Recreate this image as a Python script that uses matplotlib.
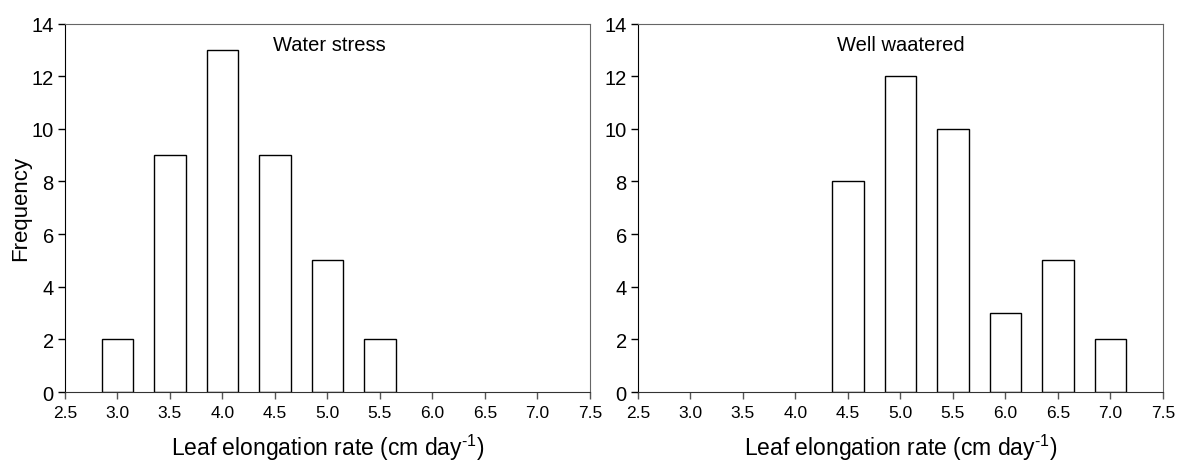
"""
plot.py
Leaf elongation rate histograms: water stress vs well watered.
"""

import matplotlib
matplotlib.use("Agg")
import matplotlib.pyplot as plt

# ─── Data ─────────────────────────────────────────────────────────────────────
bin_centres   = [3.0, 3.5, 4.0, 4.5, 5.0, 5.5, 6.0, 6.5, 7.0]
stress_freq   = [2, 9, 13, 9, 5, 2, 0, 0, 0]
watered_freq  = [0, 0, 0, 8, 12, 10, 3, 5, 2]
x_ticks       = [2.5, 3.0, 3.5, 4.0, 4.5, 5.0, 5.5, 6.0, 6.5, 7.0, 7.5]
y_ticks       = [0, 2, 4, 6, 8, 10, 12, 14]
panel_titles  = ["Water stress", "Well waatered"]

plt.rcParams["font.family"] = ["Liberation Sans", "DejaVu Sans"]
plt.rcParams["mathtext.fontset"] = "custom"
plt.rcParams["mathtext.rm"] = "Liberation Sans"
plt.rcParams["mathtext.it"] = "Liberation Sans:italic"

fig = plt.figure(figsize=(11.79, 4.64), dpi=100)
ax1 = fig.add_axes([0.0551, 0.153, 0.4453, 0.794])
ax2 = fig.add_axes([0.5411, 0.153, 0.4453, 0.794])


def draw_panel(ax, freq, title, title_x):
    # empty bins get no outline, as in the original figure
    edges = ["black" if f > 0 else "none" for f in freq]
    ax.bar(bin_centres, freq, width=0.3, color="white",
           edgecolor=edges, linewidth=1.0, zorder=2)
    ax.set_xlim(2.5, 7.5)
    ax.set_ylim(0, 14)
    ax.set_xticks(x_ticks)
    ax.set_xticklabels([f"{t:.1f}" for t in x_ticks], fontsize=12.5)
    ax.set_yticks(y_ticks)
    ax.set_yticklabels([str(t) for t in y_ticks], fontsize=14.5)
    ax.tick_params(axis="y", direction="out", length=5, width=1,
                   color="black", right=False, pad=3)
    ax.tick_params(axis="x", direction="out", length=5, width=1,
                   color="#555555", top=False, pad=4)
    ax.spines["left"].set_color("black")
    ax.spines["bottom"].set_color("#333333")
    for side in ["top", "right"]:
        ax.spines[side].set_color("#666666")
    ax.set_xlabel("Leaf elongation rate (cm day$^{\\text{-1}}$)",
                  fontsize=16.5, labelpad=9)
    ax.text(title_x, 13.2, title, fontsize=14.5, va="center", ha="left")


draw_panel(ax1, stress_freq, panel_titles[0], 4.48)
draw_panel(ax2, watered_freq, panel_titles[1], 4.40)
ax1.set_ylabel("Frequency", fontsize=16, labelpad=0)

fig.savefig("out.png", dpi=100)
